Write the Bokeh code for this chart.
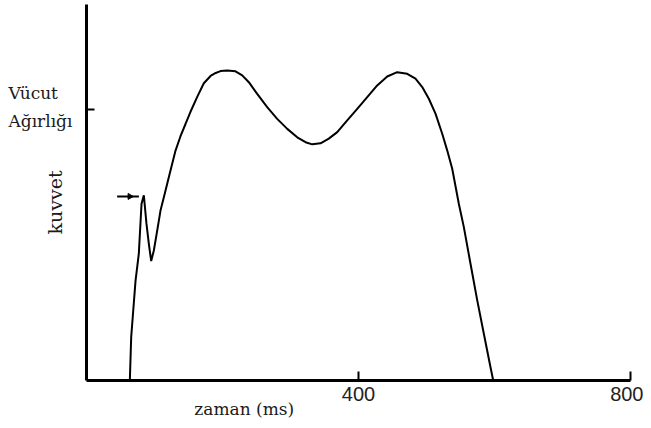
import math
from bokeh.plotting import figure
from bokeh.models import Range1d, FixedTicker, Label
from bokeh.embed import file_html
from bokeh.resources import INLINE

# ---- data ----
# time in ms, vertical ground reaction force in units of body weight
time_ms = [63.7, 65.7, 68.7, 72.1, 76.9, 80.9, 84.3, 88.2, 91.6, 95.1,
           99.0, 104.0, 108.8, 116.2, 123.5, 130.9, 138.2, 145.6, 152.9, 162.8,
           172.5, 182.4, 190.0, 197.1, 206.9, 219.1, 229.0, 238.7, 251.0, 265.7,
           280.4, 295.2, 309.9, 322.1, 331.9, 344.1, 356.3, 368.7, 383.4, 398.1,
           412.8, 427.5, 442.2, 456.9, 471.6, 483.8, 493.7, 503.4, 513.2, 523.1,
           530.5, 537.8, 547.5, 554.9, 564.7, 574.6, 584.3, 594.1, 598.1]
force_bw = [0.0, 0.160, 0.258, 0.368, 0.467, 0.651, 0.682, 0.577, 0.504, 0.440,
            0.479, 0.553, 0.626, 0.700, 0.774, 0.847, 0.900, 0.945, 0.990, 1.045,
            1.095, 1.122, 1.133, 1.140, 1.142, 1.139, 1.124, 1.099, 1.056, 1.007,
            0.964, 0.927, 0.896, 0.878, 0.870, 0.874, 0.891, 0.915, 0.958, 1.001,
            1.044, 1.087, 1.120, 1.136, 1.130, 1.112, 1.081, 1.038, 0.983, 0.909,
            0.847, 0.780, 0.651, 0.565, 0.430, 0.295, 0.172, 0.049, 0.0]

x_ticks = [400, 800]
y_ticks = [1.0]
y_tick_lines = ["Vücut", "Ağırlığı"]
x_title = "zaman (ms)"
y_title = "kuvvet"

# impact-peak arrow (ms, body weight)
arrow_x = [45.0, 77.0]
arrow_head_x = [63.7]
arrow_y = [0.678, 0.678]

# axis extents
x_axis_bounds = (0, 800)
y_axis_bounds = (0, 1.385)

# ---- figure ----
p = figure(width=643, height=420, output_backend="svg", toolbar_location=None,
           x_range=Range1d(-126.5, 819.1), y_range=Range1d(-0.1474, 1.400),
           min_border_left=0, min_border_right=0, min_border_top=0, min_border_bottom=0)
p.outline_line_color = None
p.xgrid.visible = False
p.ygrid.visible = False
p.background_fill_color = "white"
p.border_fill_color = "white"

# x axis
xa = p.xaxis[0]
xa.fixed_location = 0
xa.bounds = x_axis_bounds
xa.ticker = FixedTicker(ticks=x_ticks)
xa.axis_line_width = 3
xa.axis_line_color = "black"
xa.major_tick_in = 9
xa.major_tick_out = 0
xa.major_tick_line_width = 2
xa.major_tick_line_color = "black"
xa.minor_tick_line_color = None
xa.major_label_text_font = "Liberation Sans"
xa.major_label_text_font_size = "20px"
xa.major_label_text_color = "#222222"
xa.major_label_standoff = 7

# y axis
ya = p.yaxis[0]
ya.fixed_location = 0
ya.bounds = y_axis_bounds
ya.ticker = FixedTicker(ticks=y_ticks)
ya.axis_line_width = 3
ya.axis_line_color = "black"
ya.major_tick_in = 8
ya.major_tick_out = 0
ya.major_tick_line_width = 2
ya.major_tick_line_color = "black"
ya.minor_tick_line_color = None
ya.major_label_text_color = None

# curve
p.line(time_ms, force_bw, line_color="black", line_width=2)

# arrow
p.line(arrow_x, arrow_y, line_color="black", line_width=2)
p.scatter(arrow_head_x, [arrow_y[0]], marker="triangle", angle=-math.pi / 2,
          size=6, fill_color="black", line_color="black")

serif = "DejaVu Serif"
txt_color = "#1a1a1a"

# y tick label (two lines, left aligned)
p.add_layout(Label(x=8, x_units="screen", y=y_ticks[0], y_units="data", y_offset=16,
                   text=y_tick_lines[0], text_font=serif, text_font_size="17px",
                   text_color=txt_color, text_align="left", text_baseline="middle"))
p.add_layout(Label(x=8, x_units="screen", y=y_ticks[0], y_units="data", y_offset=-12,
                   text=y_tick_lines[1], text_font=serif, text_font_size="17px",
                   text_color=txt_color, text_align="left", text_baseline="middle"))

# axis titles
p.add_layout(Label(x=54, x_units="screen", y=0.656, y_units="data", angle=math.pi / 2,
                   text=y_title, text_font=serif, text_font_size="19px",
                   text_color=txt_color, text_align="center", text_baseline="middle"))
p.add_layout(Label(x=232, x_units="data", y=-0.104, y_units="data",
                   text=x_title, text_font=serif, text_font_size="17px",
                   text_color=txt_color, text_align="center", text_baseline="middle"))

open("out.html", "w").write(file_html(p, INLINE))
